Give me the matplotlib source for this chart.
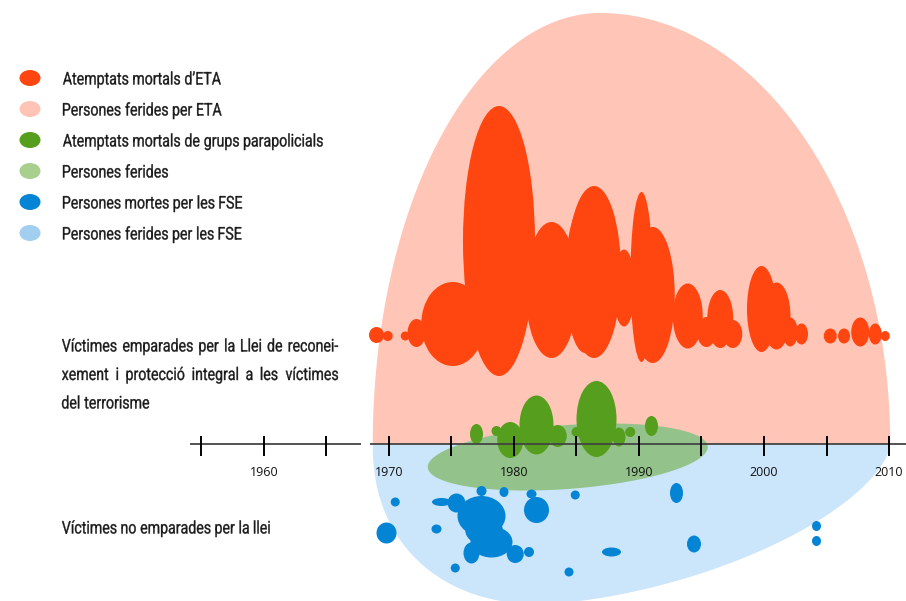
import matplotlib
matplotlib.use("Agg")
import matplotlib.pyplot as plt
from matplotlib.patches import Ellipse, Polygon, PathPatch
from matplotlib.textpath import TextPath
from matplotlib.font_manager import FontProperties
from matplotlib.transforms import Affine2D
import numpy as np

# ETA fatal attacks (red blobs): centre year, level, width (years), height
eta_year = [1969.0, 1969.9, 1971.3, 1972.2, 1975.1, 1978.8, 1983.0, 1985.7, 1986.4,
            1988.8, 1990.2, 1991.1, 1993.9, 1995.4, 1996.5, 1997.5, 1999.8, 2001.0,
            2002.1, 2003.0, 2005.3, 2006.4, 2007.7, 2008.9, 2009.7]
eta_level = [109, 108, 108, 111, 120, 203, 154, 166, 172, 156, 167, 149, 128, 112,
             125, 110, 135, 128, 112, 110, 108, 108, 112, 110, 108]
eta_w = [1.2, 0.8, 0.72, 1.44, 5.04, 5.76, 4.16, 3.2, 4.32, 1.76, 1.76, 3.52, 2.4,
         1.52, 2.08, 1.52, 2.32, 2.24, 1.2, 1.04, 1.04, 0.96, 1.44, 1.04, 0.72]
eta_h = [16, 10, 9, 28, 84, 270, 136, 150, 172, 77, 170, 136, 65, 30, 58, 28, 86,
         67, 29, 21, 15, 15, 29, 21, 10]

# paramilitary fatal attacks (green blobs)
gal_year = [1977.0, 1978.6, 1979.7, 1981.8, 1983.5, 1985.0, 1986.6, 1988.4, 1989.3, 1991.0]
gal_level = [10, 13, 4, 19, 8, 12, 25, 7, 12, 18]
gal_w = [1.04, 0.8, 2.08, 2.72, 1.44, 0.8, 3.2, 1.04, 0.8, 1.04]
gal_h = [20, 10, 36, 59, 22, 10, 76, 19, 10, 20]

# deaths caused by the security forces (blue blobs)
fse_year = [1970.5, 1974.2, 1975.4, 1977.4, 1979.2, 1981.4, 1981.8, 1984.9, 1969.8,
            1973.8, 1977.4, 1978.2, 1977.6, 1976.6, 1980.1, 1981.2, 1975.3, 1984.4,
            1987.8, 1993.0, 1994.4, 2004.2, 2004.2]
fse_level = [-58, -58, -59, -47, -48, -50, -66, -51, -89, -85, -72, -98, -86, -109,
             -110, -108, -124, -128, -108, -49, -100, -82, -97]
fse_w = [0.72, 1.52, 1.44, 0.8, 0.72, 0.8, 2.0, 0.72, 1.6, 0.8, 3.84, 3.36, 3.0,
         1.28, 1.36, 0.8, 0.72, 0.72, 1.52, 1.04, 1.12, 0.72, 0.72]
fse_h = [9, 8, 19, 10, 10, 9, 26, 9, 21, 9, 40, 31, 30, 21, 18, 10, 9, 9, 9, 20, 17,
         10, 10]

# injured areas: peak year, left / right half-width (years), extent
eta_inj = dict(year=1986.9, left=18.2, right=23.2, height=431)
fse_inj = dict(year=1982.1, left=13.4, right=28.0, depth=160)
gal_inj = dict(year=1984.3, half=11.2, level=-13, half_h=32, tilt=10)

tick_years = list(range(1955, 2011, 5))
label_years = [1960, 1970, 1980, 1990, 2000, 2010]

legend_labels = ["Atemptats mortals d’ETA", "Persones ferides per ETA",
                 "Atemptats mortals de grups parapolicials", "Persones ferides",
                 "Persones mortes per les FSE", "Persones ferides per les FSE"]
legend_colors = ["#ff4510", "#ffc4b5", "#569e1d", "#a9cf8e", "#0384d4", "#a2cff0"]

RED, PINK, GREEN, LGREEN, BLUE, LBLUE = "#ff4510", "#ffc5b6", "#569e1d", "#93c38b", "#0384d4", "#cbe5fb"
INK = "#1a1a1a"

fig = plt.figure(figsize=(9.06, 6.01), dpi=100)
ax = fig.add_axes([0, 0, 1, 1])
ax.set_xlim(1938.88, 2011.36)
ax.set_ylim(-157, 444)
ax.axis("off")

# pixel transform (origin top-left, y down)
PX = Affine2D().scale(1, -1).translate(0, 601).scale(1 / 100.) + fig.dpi_scale_trans
FP = FontProperties(family="Roboto")


def narrow_text(s, x, base, size=17.5, sx=0.81, width=None):
    """condensed text drawn as paths; base = baseline in px from top"""
    words = s.split(" ")
    paths = [TextPath((0, 0), w, size=size, prop=FP) for w in words]
    ext = [p.get_extents() for p in paths]
    space = TextPath((0, 0), "a a", size=size, prop=FP).get_extents().width - \
        2 * TextPath((0, 0), "a", size=size, prop=FP).get_extents().width
    gap = space * sx
    if width is not None and len(words) > 1:
        total = sum(e.width for e in ext) * sx
        gap = (width - total) / (len(words) - 1)
    cur = x
    for p, e in zip(paths, ext):
        tr = Affine2D().translate(-e.x0, 0).scale(sx, -1).translate(cur, base) + PX
        fig.patches.append(PathPatch(p, transform=tr, fc=INK, ec=INK, lw=0.25))
        cur += e.width * sx + gap


# pink area above the axis
t = np.linspace(0, np.pi, 300)
c = np.cos(t)
a = np.where(c > 0, eta_inj["right"], eta_inj["left"])
px = eta_inj["year"] + a * c
py = eta_inj["height"] * np.sin(t)
ax.add_patch(Polygon(np.column_stack([px, py]), closed=True, fc=PINK, ec="none", zorder=1))

# blue area below the axis (superellipse halves)
t = np.linspace(np.pi, 2 * np.pi, 300)
c, s = np.cos(t), np.sin(t)
n = np.where(c > 0, 1.6, 2.2)
a = np.where(c > 0, fse_inj["right"], fse_inj["left"])
bx = fse_inj["year"] + a * np.sign(c) * np.abs(c) ** (2 / n)
by = -fse_inj["depth"] * np.abs(s) ** (2 / n)
ax.add_patch(Polygon(np.column_stack([bx, by]), closed=True, fc=LBLUE, ec="none", zorder=1))

# green tilted area
t = np.linspace(0, 2 * np.pi, 300)
gx = gal_inj["year"] + gal_inj["half"] * np.cos(t)
gy = gal_inj["level"] + gal_inj["half_h"] * np.sin(t) + gal_inj["tilt"] * np.cos(t)
ax.add_patch(Polygon(np.column_stack([gx, gy]), closed=True, fc=LGREEN, ec="none", zorder=2))

for yr, lv, w, h in zip(eta_year, eta_level, eta_w, eta_h):
    ax.add_patch(Ellipse((yr, lv), w, h, fc=RED, ec="none", zorder=3))
for yr, lv, w, h in zip(gal_year, gal_level, gal_w, gal_h):
    ax.add_patch(Ellipse((yr, lv), w, h, fc=GREEN, ec="none", zorder=3))
for yr, lv, w, h in zip(fse_year, fse_level, fse_w, fse_h):
    ax.add_patch(Ellipse((yr, lv), w, h, fc=BLUE, ec="none", zorder=3))

# timeline
ax.plot([1954.1, 1967.8], [0, 0], color="#444444", lw=1.3, zorder=5, solid_capstyle="butt")
ax.plot([1968.5, 2011.4], [0, 0], color="#444444", lw=1.3, zorder=5, solid_capstyle="butt")
ax.vlines(tick_years, -12, 8, color="black", lw=1.4, zorder=6)
for yr in label_years:
    ax.text(yr, -28, str(yr), ha="center", va="center", fontsize=9,
            family="Open Sans", color="#111111", zorder=6)

# legend
for i, (lab, col) in enumerate(zip(legend_labels, legend_colors)):
    yy = 78 + i * 31
    ax.add_patch(Ellipse((30 / 906, 1 - yy / 601), 21 / 906, 16 / 601,
                         transform=ax.transAxes, fc=col, ec="none"))
    narrow_text(lab, 63, yy + 6.5)

notes = ["Víctimes emparades per la Llei de reconei-",
         "xement i protecció integral a les víctimes",
         "del terrorisme"]
for i, line in enumerate(notes):
    narrow_text(line, 62, 351.5 + i * 28.5, width=276 if i < 2 else None)
narrow_text("Víctimes no emparades per la llei", 62, 533.5)

fig.savefig("out.png", dpi=100)
